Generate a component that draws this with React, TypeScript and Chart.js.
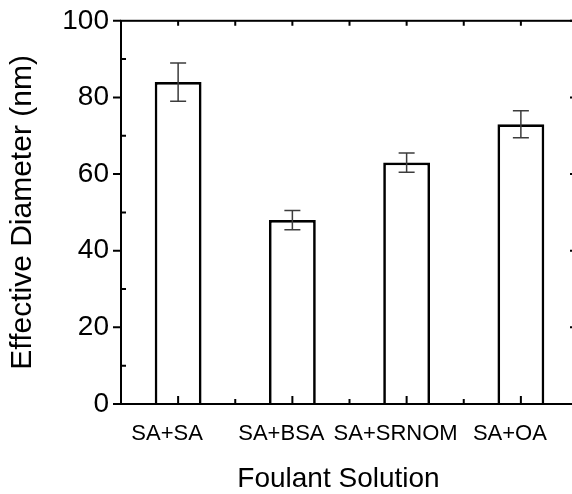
import React, { useEffect, useRef } from "react";
import { Chart, registerables } from "chart.js";

Chart.register(...registerables);

const categories = ["SA+SA", "SA+BSA", "SA+SRNOM", "SA+OA"];
const diameters = [84, 48, 63, 73];
const errors = [5, 2.5, 2.5, 3.5];
const yMajorTicks = [0, 20, 40, 60, 80, 100];
const yMinorTicks = [10, 30, 50, 70, 90];
const xTitle = "Foulant Solution";
const yTitle = "Effective Diameter (nm)";

const FONT = '"Liberation Sans", Arial, sans-serif';

const framePlugin = {
  id: "framePlugin",
  afterDraw(chart: any) {
    const { ctx, chartArea } = chart;
    const { left, right, top, bottom } = chartArea;
    const xs = chart.scales.x;
    const ys = chart.scales.y;
    ctx.save();
    // error bars
    const meta = chart.getDatasetMeta(0);
    ctx.strokeStyle = "#3c3c3c";
    ctx.lineWidth = 1.5;
    meta.data.forEach((bar: any, i: number) => {
      const x = bar.x;
      const yTop = ys.getPixelForValue(diameters[i] + errors[i]);
      const yBot = ys.getPixelForValue(diameters[i] - errors[i]);
      ctx.beginPath();
      ctx.moveTo(x, yTop);
      ctx.lineTo(x, yBot);
      ctx.moveTo(x - 8, yTop);
      ctx.lineTo(x + 8, yTop);
      ctx.moveTo(x - 8, yBot);
      ctx.lineTo(x + 8, yBot);
      ctx.stroke();
    });
    // frame
    ctx.strokeStyle = "#000";
    ctx.lineWidth = 2;
    ctx.strokeRect(left, top, right - left, bottom - top);
    ctx.beginPath();
    yMajorTicks.forEach((v) => {
      const y = ys.getPixelForValue(v);
      ctx.moveTo(left - 8, y);
      ctx.lineTo(left, y);
      ctx.moveTo(right, y);
      ctx.lineTo(right - 8, y);
    });
    yMinorTicks.forEach((v) => {
      const y = ys.getPixelForValue(v);
      ctx.moveTo(left, y);
      ctx.lineTo(left + 5, y);
      ctx.moveTo(right, y);
      ctx.lineTo(right - 5, y);
    });
    categories.forEach((_, i) => {
      const x = xs.getPixelForValue(i);
      const xm = xs.getPixelForValue(i + 0.5);
      ctx.moveTo(x, top);
      ctx.lineTo(x, top + 5);
      ctx.moveTo(x, bottom);
      ctx.lineTo(x, bottom - 8);
      if (i < categories.length - 1) {
        ctx.moveTo(xm, top);
        ctx.lineTo(xm, top + 5);
        ctx.moveTo(xm, bottom);
        ctx.lineTo(xm, bottom - 5);
      }
    });
    ctx.stroke();
    // x title
    ctx.fillStyle = "#000";
    ctx.font = `28px ${FONT}`;
    ctx.textAlign = "center";
    ctx.textBaseline = "alphabetic";
    ctx.fillText(xTitle, (left + right) / 2 - 11, bottom + 83);
    ctx.restore();
  },
};

export default function App() {
  const ref = useRef<HTMLCanvasElement>(null);
  useEffect(() => {
    if (!ref.current) return;
    const chart = new Chart(ref.current, {
      type: "bar",
      data: {
        labels: categories,
        datasets: [
          {
            data: diameters,
            backgroundColor: "#ffffff",
            borderColor: "#000000",
            borderWidth: 2.7,
            borderSkipped: "bottom",
            barPercentage: 0.41,
            categoryPercentage: 1,
          },
        ],
      },
      options: {
        responsive: false,
        animation: false,
        devicePixelRatio: 1,
        layout: { padding: { top: 20, right: 12, bottom: 0, left: 0 } },
        plugins: { legend: { display: false }, tooltip: { enabled: false } },
        scales: {
          x: {
            type: "category",
            offset: true,
            grid: { display: false },
            border: { display: false },
            ticks: {
              color: "#000",
              font: { family: FONT, size: 22 },
              padding: 9,
              labelOffset: -11,
              maxRotation: 0,
              autoSkip: false,
            },
            afterFit: (s: any) => {
              s.height = 90;
            },
          },
          y: {
            min: 0,
            max: 100,
            grid: { display: false },
            border: { display: false },
            afterBuildTicks: (s: any) => {
              s.ticks = yMajorTicks.map((v) => ({ value: v }));
            },
            ticks: {
              color: "#000",
              font: { family: FONT, size: 28 },
              padding: 4,
            },
            title: {
              display: true,
              text: yTitle,
              color: "#000",
              font: { family: FONT, size: 30 },
              padding: { top: 5, bottom: 0 },
            },
            afterFit: (s: any) => {
              s.width = 121;
            },
          },
        },
      },
      plugins: [framePlugin],
    } as any);
    return () => chart.destroy();
  }, []);
  return (
    <div
      style={{
        position: "fixed",
        left: 0,
        top: 0,
        width: 572,
        height: 494,
        overflow: "hidden",
        background: "#fff",
      }}
    >
      <canvas ref={ref} width={590} height={494} style={{ display: "block" }} />
    </div>
  );
}
